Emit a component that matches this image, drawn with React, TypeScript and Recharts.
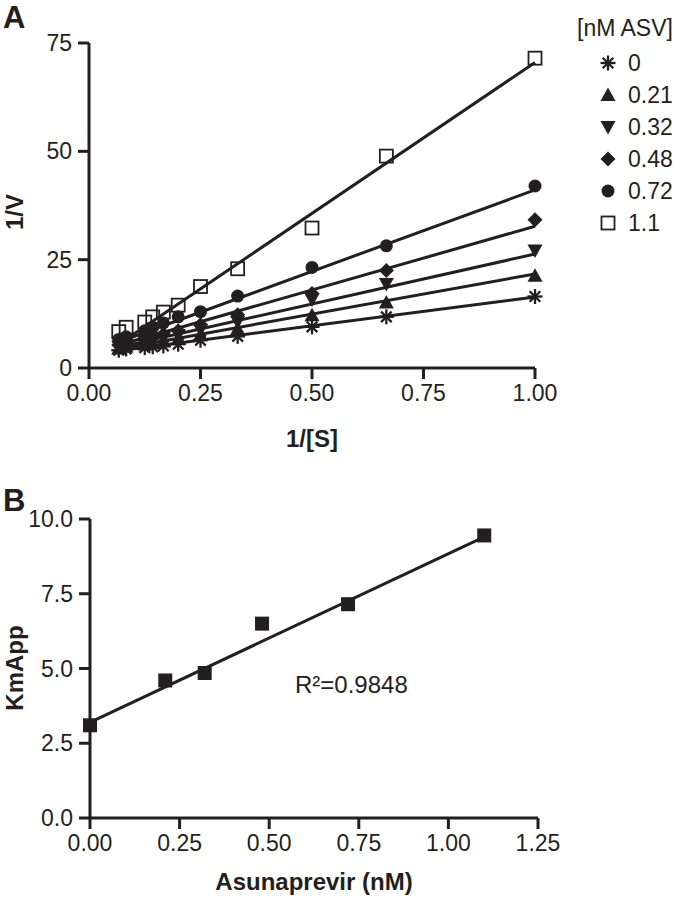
import React from 'react'
import { ComposedChart, Line, Scatter, XAxis, YAxis, Legend } from 'recharts'

const FONT = '"Liberation Sans", Arial, Helvetica, sans-serif'
const INK = '#231f20'

// panel A – Lineweaver-Burk, 1/[S] on x
const invS = [0.0667, 0.0833, 0.125, 0.1429, 0.1667, 0.2, 0.25, 0.3333, 0.5, 0.6667, 1.0]
const asvLevels = ['0', '0.21', '0.32', '0.48', '0.72', '1.1']
const invV_0 = [4.1, 4.4, 4.7, 4.9, 5.1, 5.5, 6.4, 7.3, 9.5, 11.8, 16.5]
const invV_021 = [4.5, 4.9, 5.4, 5.7, 6.1, 6.7, 7.7, 9.0, 12.2, 15.1, 21.3]
const invV_032 = [4.9, 5.3, 6.0, 6.4, 6.9, 7.6, 8.8, 10.6, 15.8, 19.4, 27.1]
const invV_048 = [5.3, 5.8, 6.7, 7.2, 7.8, 8.6, 10.0, 12.3, 17.2, 22.5, 34.2]
const invV_072 = [6.6, 7.2, 8.6, 9.4, 10.4, 11.8, 13.0, 16.6, 23.2, 28.2, 42.0]
const invV_11 = [8.4, 9.4, 10.6, 11.8, 12.9, 14.5, 18.8, 22.9, 32.3, 48.9, 71.5]

// fitted lines, read at both ends
const fitX = [0.0667, 1.0]
const fit_0 = [4.0, 16.4]
const fit_021 = [4.4, 21.7]
const fit_032 = [4.8, 26.3]
const fit_048 = [5.3, 32.7]
const fit_072 = [6.0, 41.1]
const fit_11 = [5.5, 70.5]

// panel B – apparent Km vs asunaprevir
const asvNM = [0, 0.21, 0.32, 0.48, 0.72, 1.1]
const kmApp = [3.1, 4.6, 4.85, 6.5, 7.15, 9.45]
const kmFitX = [0, 1.1]
const kmFitY = [3.2, 9.4]

const xTicksA = [0, 0.25, 0.5, 0.75, 1]
const yTicksA = [0, 25, 50, 75]
const xTicksB = [0, 0.25, 0.5, 0.75, 1, 1.25]
const yTicksB = [0, 2.5, 5, 7.5, 10]

const pts = (xs: number[], ys: number[]) => xs.map((x, i) => ({ x, y: ys[i] }))

const Asterisk = ({ cx, cy }: any) => {
  const r = 7.5
  const d = r * 0.7071
  return (
    <g stroke={INK} strokeWidth={2.3}>
      <line x1={cx - r} y1={cy} x2={cx + r} y2={cy} />
      <line x1={cx} y1={cy - r} x2={cx} y2={cy + r} />
      <line x1={cx - d} y1={cy - d} x2={cx + d} y2={cy + d} />
      <line x1={cx - d} y1={cy + d} x2={cx + d} y2={cy - d} />
    </g>
  )
}
const TriUp = ({ cx, cy }: any) => (
  <polygon points={`${cx},${cy - 7.5} ${cx + 7.5},${cy + 6} ${cx - 7.5},${cy + 6}`} fill={INK} />
)
const TriDown = ({ cx, cy }: any) => (
  <polygon points={`${cx},${cy + 7.5} ${cx + 7.5},${cy - 6} ${cx - 7.5},${cy - 6}`} fill={INK} />
)
const Diamond = ({ cx, cy }: any) => (
  <polygon points={`${cx},${cy - 7.5} ${cx + 7.5},${cy} ${cx},${cy + 7.5} ${cx - 7.5},${cy}`} fill={INK} />
)
const Dot = ({ cx, cy }: any) => <circle cx={cx} cy={cy} r={6.5} fill={INK} />
const OpenSquare = ({ cx, cy }: any) => (
  <rect x={cx - 6.5} y={cy - 6.5} width={13} height={13} fill="none" stroke={INK} strokeWidth={1.8} />
)
const FilledSquare = ({ cx, cy }: any) => <rect x={cx - 7} y={cy - 7} width={14} height={14} fill={INK} />

const seriesA = [
  { name: '1.1', data: pts(invS, invV_11), fit: pts(fitX, fit_11), Shape: OpenSquare },
  { name: '0.72', data: pts(invS, invV_072), fit: pts(fitX, fit_072), Shape: Dot },
  { name: '0.48', data: pts(invS, invV_048), fit: pts(fitX, fit_048), Shape: Diamond },
  { name: '0.32', data: pts(invS, invV_032), fit: pts(fitX, fit_032), Shape: TriDown },
  { name: '0.21', data: pts(invS, invV_021), fit: pts(fitX, fit_021), Shape: TriUp },
  { name: '0', data: pts(invS, invV_0), fit: pts(fitX, fit_0), Shape: Asterisk },
]

const tickStyle = { fill: INK, fontSize: 23, fontFamily: FONT }
const axisCommon = {
  type: 'number' as const,
  tick: tickStyle,
  tickSize: 11,
  tickMargin: 6,
  interval: 0 as const,
  axisLine: { stroke: INK, strokeWidth: 3 },
  tickLine: { stroke: INK, strokeWidth: 3 },
}

const LegendBox = ({ payload }: any) => {
  const names = asvLevels.filter((n) => (payload || []).some((p: any) => p.value === n))
  return (
    <svg width={108} height={240} style={{ display: 'block' }}>
      <text x={5} y={36} fontSize={23} fontFamily={FONT} fill={INK}>[nM ASV]</text>
      {names.map((n, i) => {
        const s = seriesA.find((d) => d.name === n)!
        const cy = 63 + 32 * i
        return (
          <g key={n}>
            <s.Shape cx={36} cy={cy} />
            <text x={56} y={cy + 8} fontSize={23} fontFamily={FONT} fill={INK}>{n}</text>
          </g>
        )
      })}
    </svg>
  )
}

const titleStyle = { fontFamily: FONT, fontWeight: 700, fill: INK } as const

export default function App() {
  return (
    <div style={{ position: 'absolute', left: 0, top: 0, width: 680, height: 900, background: '#fff' }}>
      <div style={{ position: 'absolute', left: 0, top: 0 }}>
        <ComposedChart width={680} height={450} margin={{ top: 43, right: 145, left: 29, bottom: 32 }}>
          <XAxis {...axisCommon} dataKey="x" domain={[0, 1]} ticks={xTicksA} height={50} tickFormatter={(v: number) => v.toFixed(2)} />
          <YAxis {...axisCommon} dataKey="y" domain={[0, 75]} ticks={yTicksA} width={60} />
          {seriesA.map((s) => (
            <Line key={'fit' + s.name} data={s.fit} dataKey="y" stroke={INK} strokeWidth={3} dot={false} legendType="none" isAnimationActive={false} />
          ))}
          {seriesA.map((s) => (
            <Scatter key={s.name} name={s.name} data={s.data} fill={INK} shape={(p: any) => <s.Shape cx={p.cx} cy={p.cy} />} isAnimationActive={false} />
          ))}
          <Legend layout="vertical" align="center" verticalAlign="middle" wrapperStyle={{ left: 572, top: 0, width: 108 }} content={(p: any) => <LegendBox payload={p.payload} />} />
        </ComposedChart>
      </div>
      <div style={{ position: 'absolute', left: 0, top: 450 }}>
        <ComposedChart width={680} height={450} margin={{ top: 69, right: 142, left: 30, bottom: 32 }}>
          <XAxis {...axisCommon} dataKey="x" domain={[0, 1.25]} ticks={xTicksB} height={50} tickFormatter={(v: number) => v.toFixed(2)} />
          <YAxis {...axisCommon} dataKey="y" domain={[0, 10]} ticks={yTicksB} width={60} tickFormatter={(v: number) => v.toFixed(1)} />
          <Line data={pts(kmFitX, kmFitY)} dataKey="y" stroke={INK} strokeWidth={3} dot={false} legendType="none" isAnimationActive={false} />
          <Scatter name="KmApp" data={pts(asvNM, kmApp)} fill={INK} shape={(p: any) => <FilledSquare cx={p.cx} cy={p.cy} />} isAnimationActive={false} />
        </ComposedChart>
      </div>
      <svg width={680} height={900} style={{ position: 'absolute', left: 0, top: 0, pointerEvents: 'none' }}>
        <text x={3} y={28} fontSize={31} {...titleStyle}>A</text>
        <text x={3} y={511} fontSize={31} {...titleStyle}>B</text>
        <text x={23} y={212} fontSize={24} textAnchor="middle" transform="rotate(-90 23 212)" {...titleStyle}>1/V</text>
        <text x={312} y={447} fontSize={24} textAnchor="middle" {...titleStyle}>1/[S]</text>
        <text x={23} y={668} fontSize={24} textAnchor="middle" transform="rotate(-90 23 668)" {...titleStyle}>KmApp</text>
        <text x={314} y={890} fontSize={24} textAnchor="middle" {...titleStyle}>Asunaprevir (nM)</text>
        <text x={295} y={693} fontSize={24} fontFamily={FONT} fill={INK}>R²=0.9848</text>
      </svg>
    </div>
  )
}
